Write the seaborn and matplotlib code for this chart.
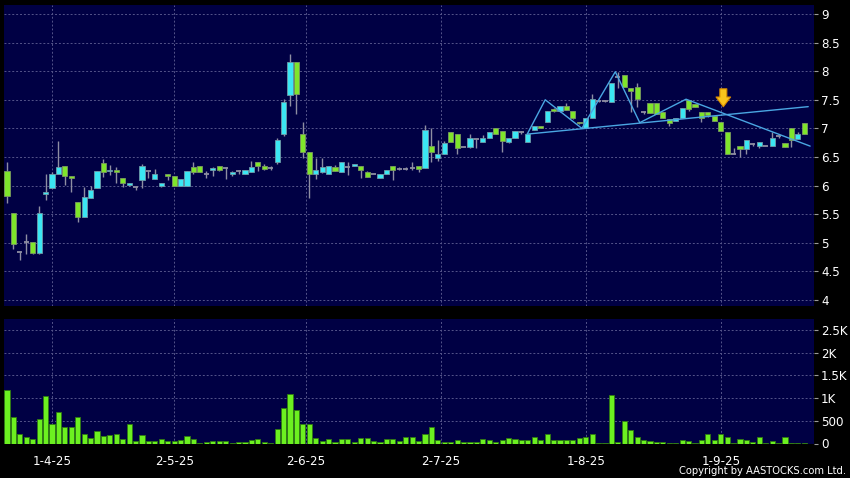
import numpy as np
import matplotlib
matplotlib.use("Agg")
import matplotlib.pyplot as plt
import seaborn as sns

# Daily candles (index 0 = first session shown)
opens = [
    6.26, 5.52, 4.84, 5.02, 5.02, 4.83, 5.85, 5.95, 6.20, 6.35,
    6.17, 5.71, 5.45, 5.79, 5.95, 6.39, 6.25, 6.28, 6.13, 6.01,
    5.97, 6.09, 6.26, 6.12, 6.00, 6.20, 6.16, 6.00, 6.00, 6.33,
    6.35, 6.20, 6.28, 6.35, 6.30, 6.20, 6.25, 6.20, 6.24, 6.41,
    6.34, 6.30, 6.41, 6.90, 7.58, 8.16, 6.90, 6.59, 6.20, 6.24,
    6.20, 6.33, 6.23, 6.33, 6.34, 6.34, 6.23, 6.20, 6.13, 6.20,
    6.34, 6.29, 6.29, 6.30, 6.35, 6.30, 6.69, 6.49, 6.56, 6.94,
    6.90, 6.68, 6.68, 6.81, 6.77, 6.84, 7.00, 6.96, 6.77, 6.83,
    6.93, 6.76, 6.98, 7.05, 7.11, 7.34, 7.30, 7.40, 7.30, 7.12,
    7.00, 7.19, 7.48, 7.48, 7.47, 7.90, 7.93, 7.70, 7.73, 7.28,
    7.44, 7.45, 7.29, 7.16, 7.13, 7.19, 7.50, 7.43, 7.29, 7.29,
    7.22, 7.12, 6.94, 6.56, 6.70, 6.64, 6.72, 6.69, 6.69, 6.69,
    6.86, 6.75, 7.00, 6.81, 7.10,
]
highs = [
    6.41, 5.52, 4.85, 5.15, 5.02, 5.64, 6.20, 6.23, 6.78, 6.35,
    6.17, 5.71, 5.98, 5.99, 6.26, 6.46, 6.36, 6.32, 6.13, 6.05,
    6.00, 6.37, 6.26, 6.29, 6.05, 6.20, 6.16, 6.11, 6.26, 6.41,
    6.35, 6.26, 6.33, 6.35, 6.33, 6.26, 6.27, 6.27, 6.43, 6.41,
    6.38, 6.34, 6.84, 7.51, 8.30, 8.16, 7.12, 6.59, 6.49, 6.48,
    6.34, 6.36, 6.41, 6.41, 6.38, 6.34, 6.26, 6.20, 6.20, 6.28,
    6.34, 6.32, 6.33, 6.41, 6.35, 7.06, 7.00, 6.80, 6.78, 6.94,
    6.90, 6.68, 6.90, 6.81, 6.88, 6.94, 7.00, 6.96, 6.83, 6.96,
    6.95, 6.90, 7.05, 7.05, 7.31, 7.36, 7.40, 7.45, 7.30, 7.12,
    7.18, 7.60, 7.50, 7.50, 7.80, 7.98, 7.93, 7.70, 7.80, 7.30,
    7.44, 7.45, 7.29, 7.16, 7.19, 7.35, 7.50, 7.43, 7.29, 7.29,
    7.22, 7.12, 6.94, 6.66, 6.70, 6.80, 6.75, 6.77, 6.70, 6.93,
    6.88, 6.75, 7.00, 6.93, 7.10,
]
lows = [
    5.70, 4.89, 4.70, 4.80, 4.80, 4.80, 5.75, 5.95, 6.20, 6.01,
    5.88, 5.36, 5.45, 5.79, 5.95, 6.15, 6.19, 6.05, 5.98, 5.99,
    5.92, 5.96, 6.13, 6.12, 5.98, 6.10, 6.00, 6.00, 6.00, 6.20,
    6.24, 6.13, 6.17, 6.25, 6.12, 6.16, 6.20, 6.20, 6.24, 6.26,
    6.28, 6.27, 6.38, 6.86, 7.39, 7.26, 6.49, 5.79, 6.11, 6.22,
    6.20, 6.26, 6.23, 6.19, 6.34, 6.14, 6.15, 6.20, 6.13, 6.20,
    6.10, 6.27, 6.27, 6.28, 6.24, 6.30, 6.41, 6.43, 6.56, 6.77,
    6.56, 6.68, 6.65, 6.66, 6.77, 6.84, 6.91, 6.59, 6.74, 6.83,
    6.91, 6.76, 6.98, 7.00, 7.11, 7.28, 7.29, 7.32, 7.17, 7.08,
    7.00, 7.19, 7.46, 7.46, 7.47, 7.70, 7.72, 7.29, 7.38, 7.26,
    7.27, 7.25, 7.18, 7.05, 7.13, 7.19, 7.30, 7.37, 7.12, 7.20,
    7.13, 6.95, 6.56, 6.56, 6.50, 6.55, 6.70, 6.65, 6.69, 6.69,
    6.84, 6.67, 6.68, 6.81, 6.90,
]
closes = [
    5.82, 4.98, 4.84, 5.02, 4.83, 5.52, 5.88, 6.20, 6.32, 6.17,
    6.13, 5.45, 5.80, 5.92, 6.26, 6.23, 6.27, 6.23, 6.04, 6.05,
    5.97, 6.34, 6.26, 6.21, 6.05, 6.16, 6.00, 6.11, 6.26, 6.24,
    6.24, 6.20, 6.31, 6.27, 6.30, 6.23, 6.25, 6.27, 6.32, 6.34,
    6.29, 6.30, 6.79, 7.47, 8.16, 7.60, 6.59, 6.20, 6.28, 6.32,
    6.34, 6.26, 6.41, 6.33, 6.38, 6.28, 6.15, 6.20, 6.20, 6.28,
    6.27, 6.29, 6.29, 6.30, 6.29, 6.98, 6.59, 6.56, 6.74, 6.77,
    6.65, 6.68, 6.83, 6.81, 6.84, 6.94, 6.91, 6.78, 6.83, 6.96,
    6.93, 6.90, 7.05, 7.00, 7.31, 7.30, 7.39, 7.32, 7.19, 7.09,
    7.18, 7.51, 7.48, 7.48, 7.80, 7.90, 7.72, 7.66, 7.51, 7.28,
    7.27, 7.25, 7.18, 7.10, 7.19, 7.35, 7.34, 7.37, 7.19, 7.23,
    7.13, 6.95, 6.56, 6.56, 6.64, 6.80, 6.72, 6.77, 6.69, 6.84,
    6.86, 6.67, 6.80, 6.90, 6.90,
]
volumes = [
    1170, 590, 200, 150, 100, 550, 1040, 420, 700, 360,
    360, 580, 220, 125, 285, 175, 180, 210, 100, 420,
    65, 190, 50, 50, 110, 65, 50, 80, 155, 90,
    20, 25, 65, 50, 50, 10, 30, 30, 70, 95,
    30, 10, 330, 780, 1100, 740, 430, 430, 125, 57,
    90, 40, 90, 90, 40, 125, 125, 65, 30, 90,
    90, 65, 150, 150, 65, 200, 370, 70, 35, 35,
    70, 35, 35, 35, 100, 70, 35, 70, 125, 100,
    70, 70, 150, 70, 215, 70, 70, 70, 70, 125,
    150, 215, 15, 15, 1070, 25, 500, 300, 140, 70,
    55, 35, 35, 15, 15, 70, 55, 15, 70, 220,
    80, 220, 140, 15, 100, 80, 35, 150, 15, 50,
    15, 140, 10, 10, 10,
]

date_ticks = [7, 26, 46.5, 67.5, 90, 111]
date_labels = ["1-4-25", "2-5-25", "2-6-25", "2-7-25", "1-8-25", "1-9-25"]
price_ticks = [4, 4.5, 5, 5.5, 6, 6.5, 7, 7.5, 8, 8.5, 9]
price_labels = ["4", "4.5", "5", "5.5", "6", "6.5", "7", "7.5", "8", "8.5", "9"]
vol_ticks = [0, 500, 1000, 1500, 2000, 2500]
vol_labels = ["0", "500", "1K", "1.5K", "2K", "2.5K"]

# drawn pattern lines (head & shoulders + neckline) and the signal arrow
zigzag_x = [80.9, 83.7, 89.4, 94.6, 98.4, 105.6, 124.9]
zigzag_y = [6.90, 7.50, 7.00, 7.99, 7.10, 7.51, 6.69]
neck_x = [80.9, 124.6]
neck_y = [6.90, 7.38]
arrow_x = 111.4
arrow_top, arrow_tip = 7.74, 7.33

BG = "black"
PANEL = "#000044"
GRID = "#54548a"
CYAN = "#3be6f3"
GREEN = "#7fe52b"
WICK = "#8e8ea2"
LINE = "#4aa6e2"

sns.set_style("dark")
plt.rcParams["font.family"] = ["DejaVu Sans"]

fig = plt.figure(figsize=(8.5, 4.78), dpi=100, facecolor=BG)
ax1 = fig.add_axes([4 / 850, 1 - 306 / 478, 810 / 850, 301 / 478])
ax2 = fig.add_axes([4 / 850, 1 - 443.5 / 478, 810 / 850, 124.5 / 478])

o = np.array(opens)
h = np.array(highs)
l = np.array(lows)
c = np.array(closes)
x = np.arange(len(o))
up = c > o
dn = c < o
flat = c == o
w = 0.8

# price candles
ax1.vlines(x, l, h, color=WICK, lw=1, zorder=2)
ax1.bar(x[up], (c - o)[up], bottom=o[up], width=w, color=CYAN,
        edgecolor="#6f9aa8", linewidth=0.6, zorder=3)
ax1.bar(x[dn], (o - c)[dn], bottom=c[dn], width=w, color=GREEN,
        edgecolor="#7a9a60", linewidth=0.6, zorder=3)
ax1.hlines(c[flat], x[flat] - w / 2, x[flat] + w / 2, color=WICK, lw=1.3, zorder=3)

sns.lineplot(x=zigzag_x, y=zigzag_y, sort=False, color=LINE, lw=1, ax=ax1, zorder=4)
sns.lineplot(x=neck_x, y=neck_y, sort=False, color=LINE, lw=1, ax=ax1, zorder=4)

ax1.annotate("", xy=(arrow_x, arrow_tip), xytext=(arrow_x, arrow_top),
             arrowprops=dict(arrowstyle="simple,head_length=0.7,head_width=1.05,tail_width=0.5",
                             fc="#f8c41c", ec="#d88c00", lw=0.8, mutation_scale=10),
             zorder=5)

# volume
sns.barplot(x=x, y=volumes, native_scale=True, color="#6cf020", saturation=1,
            width=0.8, edgecolor="#2f7a12", linewidth=0.6, ax=ax2, zorder=3)

xlim = (-0.47, 125.5)
for ax in (ax1, ax2):
    ax.set_facecolor(PANEL)
    ax.set_xlim(*xlim)
    ax.set_xticks(date_ticks)
    ax.grid(True, color=GRID, ls=(0, (2, 2)), lw=0.7)
    ax.yaxis.tick_right()
    ax.tick_params(axis="y", colors="#9a9a9a", labelcolor="white", length=3,
                   width=0.8, pad=2, labelsize=8.6)
    for sp in ax.spines.values():
        sp.set_visible(False)
    ax.set_xlabel("")
    ax.set_ylabel("")

ax1.set_ylim(3.895, 9.157)
ax1.set_yticks(price_ticks)
ax1.set_yticklabels(price_labels)
ax1.tick_params(axis="x", length=0, labelbottom=False)

ax2.set_ylim(0, 2740)
ax2.set_yticks(vol_ticks)
ax2.set_yticklabels(vol_labels)
ax2.set_xticklabels(date_labels)
ax2.tick_params(axis="x", colors="#9a9a9a", labelcolor="white", length=4,
                width=0.8, pad=4, labelsize=8.6)

fig.text(846 / 850, 1 - 471 / 478, "Copyright by AASTOCKS.com Ltd.", color="white",
         fontsize=7.2, ha="right", va="center")

fig.savefig("out.png", dpi=100, facecolor=BG)
